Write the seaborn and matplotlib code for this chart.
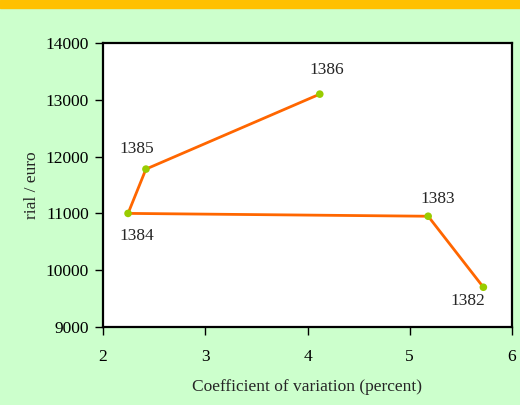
import matplotlib
matplotlib.use("Agg")
import matplotlib.pyplot as plt
import seaborn as sns
import pandas as pd
from matplotlib.patches import Rectangle

# data
years = ["1382", "1383", "1384", "1385", "1386"]
cv_percent = [5.72, 5.18, 2.245, 2.42, 4.12]
rial_euro = [9700, 10950, 11000, 11780, 13100]

df = pd.DataFrame({"year": years, "cv": cv_percent, "rate": rial_euro})

sns.set_style("white")
plt.rcParams["font.family"] = ["Liberation Serif", "DejaVu Serif"]

fig = plt.figure(figsize=(5.2, 4.05), dpi=100, facecolor="#CCFFCC")
ax = fig.add_axes([103 / 520, 78 / 405, 409 / 520, 284 / 405])
ax.set_facecolor("white")

# orange band at top
fig.patches.append(Rectangle((0, 1 - 8 / 405), 1, 8 / 405, transform=fig.transFigure,
                             color="#FFC000", zorder=0))

sns.lineplot(data=df, x="cv", y="rate", sort=False, color="#FF6600", linewidth=2, ax=ax)
sns.scatterplot(data=df, x="cv", y="rate", color="#99CC00", s=30, edgecolor="none",
                zorder=3, ax=ax)

offsets = {"1382": (-16, -14), "1383": (10, 17), "1384": (9, -23),
           "1385": (-9, 20), "1386": (7, 24)}
for _, r in df.iterrows():
    ax.annotate(r["year"], (r["cv"], r["rate"]), xytext=offsets[r["year"]],
                textcoords="offset pixels", ha="center", va="center", fontsize=12.5)

ax.set_xlim(2, 6)
ax.set_ylim(9000, 14000)
ax.set_xticks([2, 3, 4, 5, 6])
ax.set_yticks(range(9000, 14001, 1000))
ax.tick_params(axis="both", direction="out", length=6, width=1, labelsize=12.5,
               left=True, bottom=True, colors="black")
ax.tick_params(axis="x", pad=10)
ax.tick_params(axis="y", pad=4)
ax.set_xlabel("Coefficient of variation (percent)", fontsize=12.5, labelpad=10)
ax.set_ylabel("rial / euro", fontsize=12.5, labelpad=4)

for s in ax.spines.values():
    s.set_color("black")
    s.set_linewidth(1.6)

fig.savefig("out.png", dpi=100, facecolor=fig.get_facecolor())
